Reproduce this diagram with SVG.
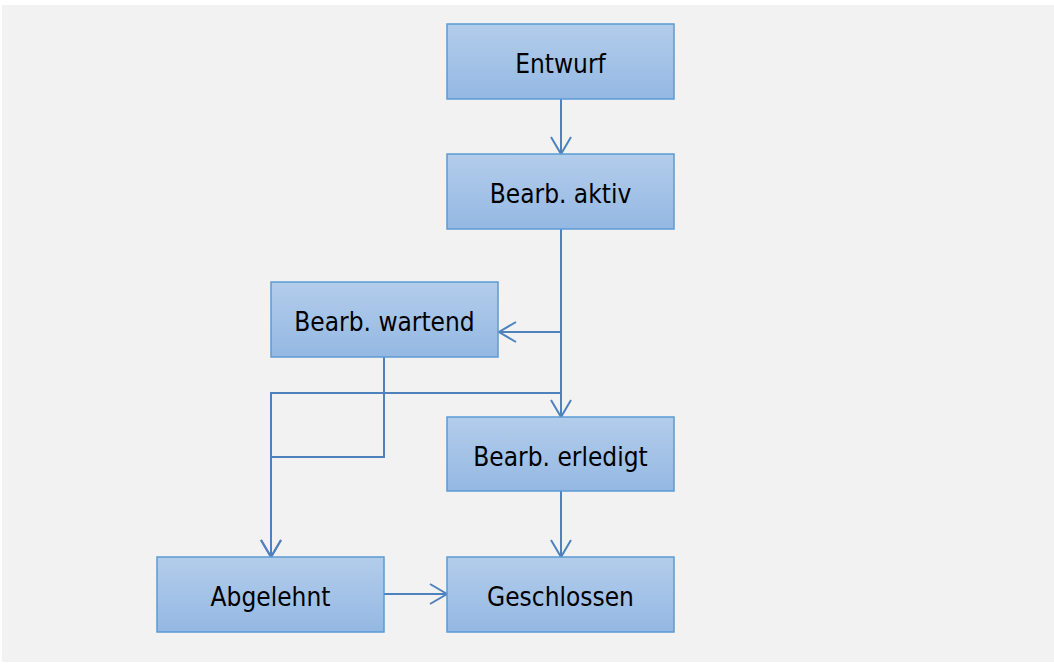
<svg xmlns="http://www.w3.org/2000/svg" width="1054" height="664" viewBox="0 0 1054 664">
  <style>
    .node rect { fill: url(#nodeFill); stroke: #5b9bd5; stroke-width: 1.5; }
    .node text { font-family: "DejaVu Sans Condensed", "DejaVu Sans", Verdana, sans-serif; font-stretch: condensed; font-size: 26px; fill: #000; text-anchor: middle; }
    .edge { fill: none; stroke: #4f81bd; stroke-width: 2; marker-end: url(#arrow); }
  </style>
  <defs>
    <linearGradient id="nodeFill" x1="0" y1="0" x2="0" y2="1">
      <stop offset="0" stop-color="#b3cdeb"/>
      <stop offset="1" stop-color="#94b8e3"/>
    </linearGradient>
    <marker id="arrow" viewBox="-19 -12 21 24" refX="0" refY="0" markerWidth="21" markerHeight="24" markerUnits="userSpaceOnUse" orient="auto">
      <path d="M-17,-10 L0,0 L-17,10" fill="none" stroke="#4f81bd" stroke-width="2"/>
    </marker>
  </defs>

  <!-- canvas -->
  <rect x="0" y="0" width="1054" height="664" fill="#ffffff"/>
  <rect x="2" y="5" width="1052" height="657" fill="#f2f2f2"/>

  <!-- connectors -->
  <g id="connectors">
    <path class="edge" d="M561 99 V154"/>
    <path class="edge" d="M561 229 V417"/>
    <path class="edge" d="M561 332 H499"/>
    <path class="edge" d="M561 393 H271 V557"/>
    <path class="edge" d="M384 357 V457 H271 V557"/>
    <path class="edge" d="M561 491 V557"/>
    <path class="edge" d="M384 594 H447"/>
  </g>

  <!-- states -->
  <g id="entwurf" class="node">
    <rect x="447" y="24" width="227" height="75"/>
    <text x="560.5" y="72.5">Entwurf</text>
  </g>
  <g id="bearb-aktiv" class="node">
    <rect x="447" y="154" width="227" height="75"/>
    <text x="560.5" y="202.5">Bearb. aktiv</text>
  </g>
  <g id="bearb-wartend" class="node">
    <rect x="271" y="282" width="227" height="75"/>
    <text x="384.5" y="330.5">Bearb. wartend</text>
  </g>
  <g id="bearb-erledigt" class="node">
    <rect x="447" y="417" width="227" height="74"/>
    <text x="560.5" y="466">Bearb. erledigt</text>
  </g>
  <g id="abgelehnt" class="node">
    <rect x="157" y="557" width="227" height="75"/>
    <text x="270.5" y="605.5">Abgelehnt</text>
  </g>
  <g id="geschlossen" class="node">
    <rect x="447" y="557" width="227" height="75"/>
    <text x="560.5" y="605.5">Geschlossen</text>
  </g>
</svg>
